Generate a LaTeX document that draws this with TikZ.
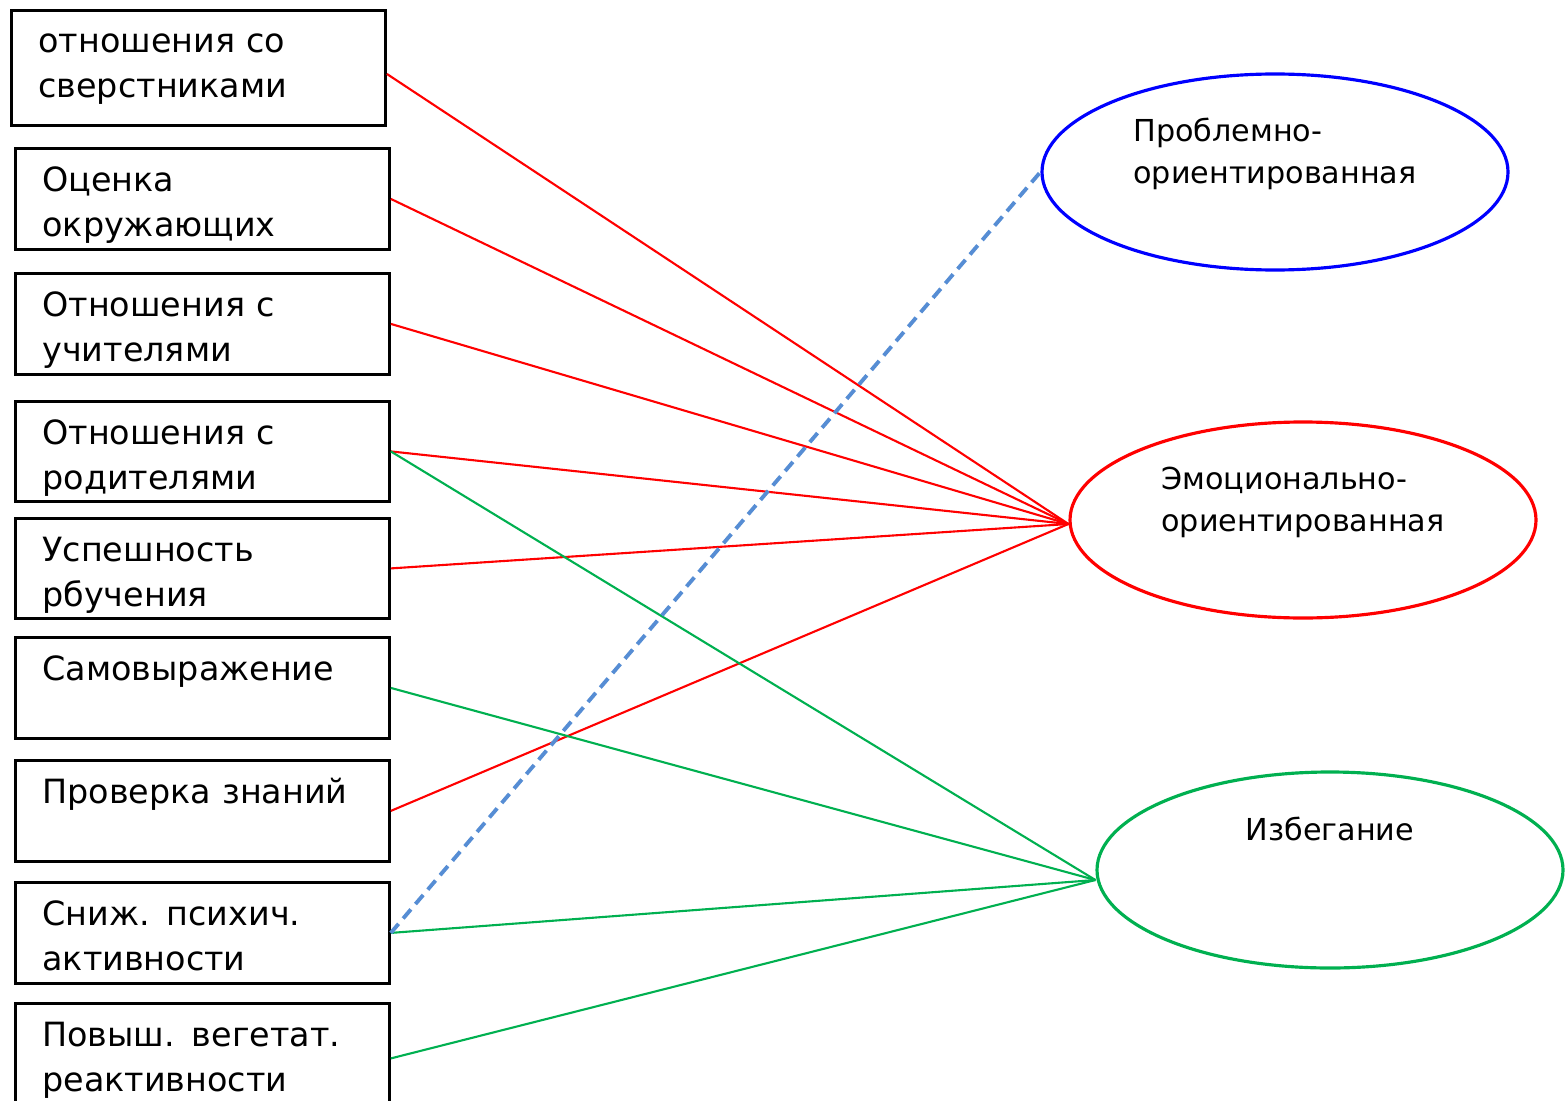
\documentclass[tikz,border=0pt]{standalone}
\usepackage{fontspec}
\setmainfont{DejaVu Sans}
\usetikzlibrary{shapes.geometric}

\definecolor{linkred}{RGB}{255,0,0}
\definecolor{linkgreen}{RGB}{0,176,80}
\definecolor{linkblue}{RGB}{0,0,255}
\definecolor{dashblue}{RGB}{86,141,212}

\tikzset{factor/.style={rectangle, draw, line width=0.8pt, anchor=north west, align=left,
		text width=3.2cm, inner xsep=0.27cm, inner ysep=0pt, text height=0.43cm, text depth=0.58cm,
		font=\fontsize{9.5}{12.8}\selectfont}}
\tikzset{coping/.style={ellipse, draw, line width=0.9pt, minimum width=4.66cm, minimum height=1.96cm,
		align=left, inner sep=0pt, text height=0.3cm, text depth=0.9cm,
		font=\fontsize{8.6}{11.8}\selectfont}}

\begin{document}
\begin{tikzpicture}[red link/.style={linkred, line width=0.6pt},
	green link/.style={linkgreen, line width=0.6pt}]
	\useasboundingbox (0,0) rectangle (15.65,-11);
	
	% Define factors
	\node[factor, text height=0.42cm, text depth=0.73cm] (F1) at (0.10,-0.09) {отношения со\\сверстниками};
	\node[factor] (F2) at (0.14,-1.47) {Оценка\\окружающих};
	\node[factor] (F3) at (0.14,-2.72) {Отношения с\\учителями};
	\node[factor, text depth=0.57cm] (F4) at (0.14,-4.00) {Отношения с\\родителями};
	\node[factor, text depth=0.57cm] (F5) at (0.14,-5.17) {Успешность\\рбучения};
	\node[factor] (F6) at (0.14,-6.36) {Самовыражение\\\strut};
	\node[factor] (F7) at (0.14,-7.59) {Проверка знаний\\\strut};
	\node[factor] (F8) at (0.14,-8.81) {Сниж. психич.\\активности};
	\node[factor, text depth=0.67cm] (F9) at (0.14,-10.02) {Повыш. вегетат.\\реактивности};
	
	% Define coping strategies
	% two lines: the node's baseline is the last line
	\node[coping, linkblue, text height=0.75cm, text depth=0.53cm] (P) at (12.75,-1.72) {\color{black}Проблемно-\\\color{black}ориентированная};
	\node[coping, linkred, text height=0.75cm, text depth=0.53cm] (E) at (13.03,-5.20) {\color{black}Эмоционально-\\\color{black}ориентированная};
	\node[coping, linkgreen] (A) at (13.30,-8.70) {\color{black}Избегание};
	
	% Edges to E
	\draw[red link] ([yshift=-0.06cm]F1.east) -- ([yshift=-0.04cm]E.west);
	\draw[red link] (F2.east) -- ([yshift=-0.04cm]E.west);
	\draw[red link] (F3.east) -- ([yshift=-0.04cm]E.west);
	\draw[red link] (F4.east) -- ([yshift=-0.04cm]E.west);
	\draw[red link] (F5.east) -- ([yshift=-0.04cm]E.west);
	\draw[red link] (F7.east) -- ([yshift=-0.04cm]E.west);
	
	% Edges to A
	\draw[green link] (F4.east) -- ([yshift=-0.1cm]A.west);
	\draw[green link] (F6.east) -- ([yshift=-0.1cm]A.west);
	\draw[green link] (F8.east) -- ([yshift=-0.1cm]A.west);
	\draw[green link] (F9.east) -- ([yshift=-0.1cm]A.west);
	
	% Edge to P
	\draw[dashblue, line width=1.1pt, dash pattern=on 3.4pt off 2pt] (F8.east) -- (P.west);
\end{tikzpicture}
\end{document}
